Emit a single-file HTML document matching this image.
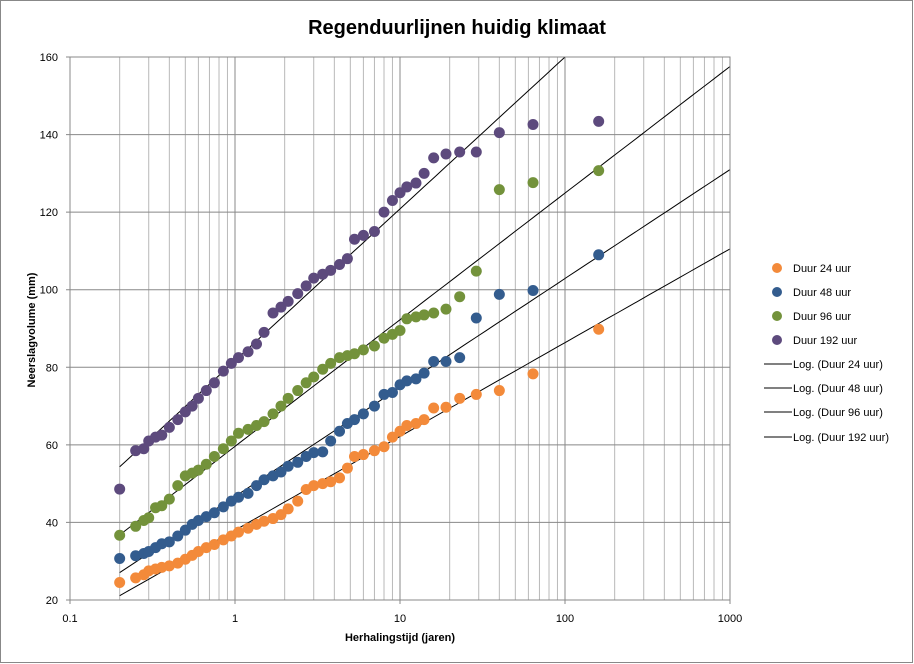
<!DOCTYPE html>
<html><head><meta charset="utf-8"><style>
html,body{margin:0;padding:0;background:#fff;}
svg{display:block;font-family:"Liberation Sans",Calibri,sans-serif;}
</style></head><body>
<svg id="chart" width="914" height="664" viewBox="0 0 914 664">
<rect x="0.5" y="0.5" width="912" height="662" fill="#fff" stroke="#888"/>
<text x="457" y="34" text-anchor="middle" font-size="20" font-weight="bold" fill="#000">Regenduurlijnen huidig klimaat</text>
<g id="grid"></g>
<g id="trend"></g>
<g id="pts"></g>
<g id="axes"></g>
<text x="400" y="641" text-anchor="middle" font-size="11" font-weight="bold">Herhalingstijd (jaren)</text>
<text x="0" y="0" transform="translate(35,330) rotate(-90)" text-anchor="middle" font-size="11" font-weight="bold">Neerslagvolume (mm)</text>
<g id="legend"></g>
</svg>
<script>
const xVals=[0.2,0.25,0.28,0.3,0.33,0.36,0.4,0.45,0.5,0.55,0.6,0.67,0.75,0.85,0.95,1.05,1.2,1.35,1.5,1.7,1.9,2.1,2.4,2.7,3.0,3.4,3.8,4.3,4.8,5.3,6,7,8,9,10,11,12.5,14,16,19,23,29,40,64,160];
const dur24=[24.5,25.7,26.5,27.5,28,28.4,28.8,29.5,30.5,31.5,32.5,33.5,34.3,35.5,36.5,37.5,38.5,39.5,40.3,41,42,43.5,45.5,48.5,49.5,50,50.5,51.5,54,57,57.5,58.5,59.5,62,63.5,65,65.5,66.5,69.5,69.7,72,73,74,78.3,89.8];
const dur48=[30.7,31.4,32,32.5,33.5,34.5,35,36.5,38,39.5,40.5,41.5,42.5,44,45.5,46.5,47.5,49.5,51,52,53,54.5,55.5,57,58,58.2,61,63.5,65.5,66.5,68,70,73,73.5,75.5,76.5,77,78.5,81.5,81.5,82.5,92.7,98.8,99.8,109];
const dur96=[36.7,39,40.5,41.2,43.8,44.3,46,49.5,52,52.7,53.5,55,57,59,61,63,64,65,66,68,70,72,74,76,77.5,79.5,81,82.5,83,83.5,84.5,85.5,87.5,88.5,89.5,92.5,93,93.5,94,95,98.2,104.8,125.8,127.6,130.7];
const dur192=[48.6,58.5,59,61,62,62.5,64.5,66.5,68.5,70,72,74,76,79,81,82.5,84,86,89,94,95.5,97,99,101,103,104,105,106.5,108,113,114,115,120,123,125,126.5,127.5,130,134,135,135.5,135.5,140.5,142.6,143.4];
const trendA=[10.5,12.2,14.18,17.0];
const trendB=[38.0,46.7,59.6,81.7];
const seriesNames=["Duur 24 uur","Duur 48 uur","Duur 96 uur","Duur 192 uur"];
const yTicks=[20,40,60,80,100,120,140,160];
const xTicks=[0.1,1,10,100,1000];
const xTickLabels=["0.1","1","10","100","1000"];

const colors=["#F38A3A","#335C8E","#73923B","#5D4A7D"];
const L=70,R=730,T=57,B=600;
const X=v=>L+(Math.log10(v)+1)/4*(R-L);
const Y=v=>B-(v-20)/140*(B-T);
const NS="http://www.w3.org/2000/svg";
function mk(tag,attrs,parent){const e=document.createElementNS(NS,tag);for(const k in attrs)e.setAttribute(k,attrs[k]);parent.appendChild(e);return e;}
const grid=document.getElementById('grid'),axes=document.getElementById('axes');
for(let d=-1;d<3;d++){for(let m=2;m<10;m++){const x=X(m*Math.pow(10,d));
const l=mk('line',{x1:x,x2:x,y1:T,y2:B,stroke:'#b8b8b8','stroke-width':1},grid);

}}
xTicks.forEach((v,i)=>{const x=X(v);
const l=mk('line',{x1:x,x2:x,y1:T,y2:B+4,stroke:'#888','stroke-width':1},grid);


const t=mk('text',{x:x,y:B+22,'text-anchor':'middle','font-size':11},axes);t.textContent=xTickLabels[i];

});
yTicks.forEach(v=>{const y=Y(v);
const l=mk('line',{x1:L-4,x2:R,y1:y,y2:y,stroke:'#888','stroke-width':1},grid);


const t=mk('text',{x:L-12,y:y+4,'text-anchor':'end','font-size':11},axes);t.textContent=v;

});
const fr=mk('rect',{x:L,y:T,width:R-L,height:B-T,fill:'none',stroke:'#888'},axes);


// clip
const defs=mk('defs',{},document.getElementById('chart'));
const cp=mk('clipPath',{id:'pc'},defs);mk('rect',{x:L,y:T,width:R-L,height:B-T},cp);
const trend=document.getElementById('trend');trend.setAttribute('clip-path','url(#pc)');
trendA.forEach((a,i)=>{const b=trendB[i];const pts=[];
for(let k=0;k<=60;k++){const lx=Math.log10(0.2)+k/60*(3-Math.log10(0.2));const v=Math.pow(10,lx);pts.push(X(v).toFixed(1)+','+Y(a*Math.log(v)+b).toFixed(1));}
const p=mk('polyline',{points:pts.join(' '),fill:'none',stroke:'#000','stroke-width':1},trend);

});
const ptsG=document.getElementById('pts');
[dur24,dur48,dur96,dur192].forEach((s,i)=>{s.forEach((v,j)=>{
const c=mk('circle',{cx:X(xVals[j]),cy:Y(v),r:5.5,fill:colors[i]},ptsG);

});});
const lg=document.getElementById('legend');
const rows=[268,292,316,340,364,388,412,437];
seriesNames.forEach((n,i)=>{
const c=mk('circle',{cx:777,cy:rows[i],r:5,fill:colors[i]},lg);


const t=mk('text',{x:793,y:rows[i]+4,'font-size':11},lg);t.textContent=n;

});
seriesNames.forEach((n,i)=>{const y=rows[i+4];
const l=mk('line',{x1:764,x2:792,y1:y,y2:y,stroke:'#000','stroke-width':1},lg);


const t=mk('text',{x:793,y:y+4,'font-size':11},lg);t.textContent='Log. ('+n+')';

});
</script>
</body></html>
